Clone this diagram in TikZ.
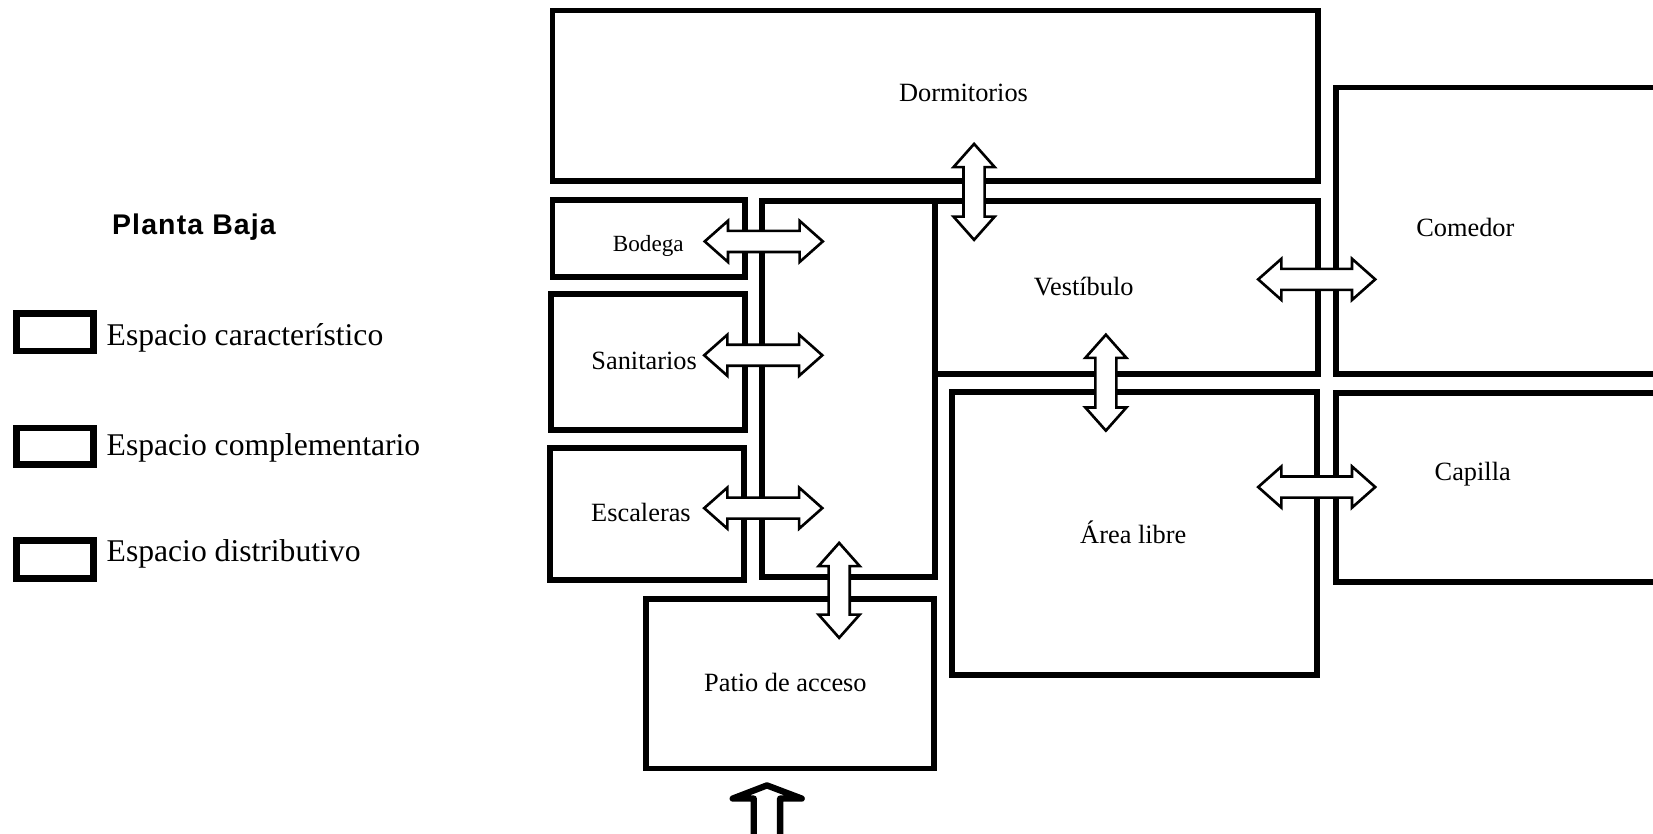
\documentclass[tikz,border=0pt]{standalone}
\usepackage{fontspec}
\setmainfont{Liberation Serif}
\newfontfamily\pbfont[LetterSpace=4]{Liberation Sans}
\tikzset{
  wall/.style={draw=black, line width=5.5pt, line join=miter},
  legbox/.style={draw=black, line width=6.5pt, line join=miter},
  roomlabel/.style={font=\fontsize{25pt}{30pt}\selectfont, inner sep=0pt},
  leglabel/.style={font=\fontsize{30pt}{35pt}\selectfont, inner sep=0pt, anchor=base west},
  dblarrow/.style={draw=black, fill=white, line width=2.5pt, line join=miter},
  entryarrow/.style={draw=black, fill=white, line width=6pt, line join=round},
  harr/.pic={
    \pgfmathsetmacro\arrhl{#1/2}
    \draw[dblarrow] ({-\arrhl},0) -- ({-\arrhl+22},-19.5) -- ({-\arrhl+22},-10) -- ({\arrhl-22},-10) -- ({\arrhl-22},-19.5) -- ({\arrhl},0) -- ({\arrhl-22},19.5) -- ({\arrhl-22},10) -- ({-\arrhl+22},10) -- ({-\arrhl+22},19.5) -- cycle;
  },
  varr/.pic={
    \pgfmathsetmacro\arrhl{#1/2}
    \draw[dblarrow] (0,{-\arrhl}) -- (-19.5,{-\arrhl+22}) -- (-10,{-\arrhl+22}) -- (-10,{\arrhl-22}) -- (-19.5,{\arrhl-22}) -- (0,{\arrhl}) -- (19.5,{\arrhl-22}) -- (10,{\arrhl-22}) -- (10,{-\arrhl+22}) -- (19.5,{-\arrhl+22}) -- cycle;
  }
}
\begin{document}
\begin{tikzpicture}[x=1pt,y=-1pt]
\useasboundingbox (0,0) rectangle (1568,791);
\clip (0,0) rectangle (1568,791);
\fill[white] (0,0) rectangle (1568,791);

% legend
\node[font=\pbfont\bfseries\fontsize{27pt}{31pt}\selectfont, inner sep=0pt, anchor=base] (title) at (184,222) {Planta Baja};
\draw[legbox] (16,297) rectangle (89,333);
\draw[legbox] (16,406) rectangle (89,441);
\draw[legbox] (16,513) rectangle (89,549);
\node[leglabel] (l1) at (101,328) {Espacio característico};
\node[leglabel] (l2) at (101,432) {Espacio complementario};
\node[leglabel] (l3) at (101,533) {Espacio distributivo};

% rooms
\draw[wall] (524,10) rectangle (1250,172);
\draw[wall] (524,190) rectangle (707,263);
\draw[wall] (523,279) rectangle (707,408);
\draw[wall] (522,425) rectangle (706,550);
\draw[wall] (723,191) rectangle (887,547);
\draw[wall] (887,191) rectangle (1250,355);
\draw[wall] (1267,83) rectangle (1600,355);
\draw[wall] (1267,373) rectangle (1600,552);
\draw[wall] (903,372) rectangle (1249,640);
\draw[wall] (613,568) rectangle (886,729);

% labels
\node[roomlabel] (dorm) at (914,88) {Dormitorios};
\node[roomlabel, font=\fontsize{22pt}{26pt}\selectfont] (bod) at (615,233) {Bodega};
\node[roomlabel] (san) at (611,342) {Sanitarios};
\node[roomlabel] (esc) at (608,486) {Escaleras};
\node[roomlabel] (vest) at (1028,272) {Vestíbulo};
\node[roomlabel] (com) at (1390,216) {Comedor};
\node[roomlabel] (cap) at (1397,450) {Capilla};
\node[roomlabel] (area) at (1075,505) {Área libre};
\node[roomlabel] (patio) at (745,647) {Patio de acceso};

% connection arrows
\pic at (724.5,229) {harr=112};
\pic at (724,337) {harr=112};
\pic at (724,482) {harr=112};
\pic at (1249,265) {harr=111};
\pic at (1249,462) {harr=111};
\pic at (924,182) {varr=91};
\pic at (1049,363) {varr=91};
\pic at (796,560) {varr=90};

% entry arrow
\draw[entryarrow] (727.5,745) -- (760.5,757.5) -- (740,757.5) -- (740,800) -- (715,800) -- (715,757.5) -- (695,757.5) -- cycle;
\end{tikzpicture}
\end{document}
